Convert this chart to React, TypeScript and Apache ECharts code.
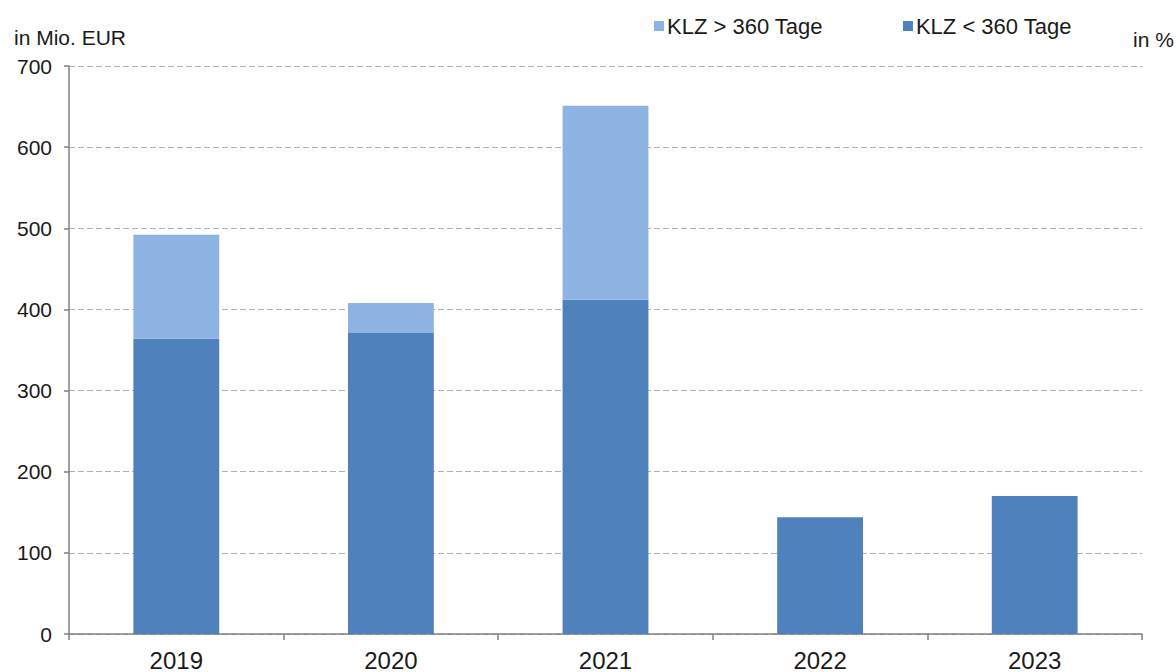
import React, { useEffect, useRef } from "react";
import * as echarts from "echarts";

const categories = ["2019", "2020", "2021", "2022", "2023"];
const shortTerm = [364, 371, 412, 144, 170]; // KLZ < 360 Tage
const longTerm = [128, 37, 239, 0, 0]; // KLZ > 360 Tage
const yTicks = [0, 100, 200, 300, 400, 500, 600, 700];

const FONT = "'Liberation Sans', Arial, sans-serif";

export default function App() {
  const ref = useRef<HTMLDivElement>(null);
  useEffect(() => {
    const chart = echarts.init(ref.current!, null, { renderer: "svg" });
    chart.setOption({
      animation: false,
      textStyle: { fontFamily: FONT },
      legend: {
        left: 649,
        top: 10,
        itemWidth: 10,
        itemHeight: 10,
        itemGap: 80,
        icon: "rect",
        textStyle: { fontSize: 22, color: "#1a1a1a", fontFamily: FONT, padding: [0, 0, 0, -2] },
        data: ["KLZ > 360 Tage", "KLZ < 360 Tage"],
      },
      graphic: [
        { type: "text", left: 14, top: 27, style: { text: "in Mio. EUR", fontSize: 21, fill: "#1a1a1a", fontFamily: FONT } },
        { type: "text", left: 1133, top: 29, style: { text: "in %", fontSize: 21, fill: "#1a1a1a", fontFamily: FONT } },
      ],
      grid: { left: 69, right: 34, top: 66, bottom: 38, containLabel: false },
      xAxis: {
        type: "category",
        data: categories,
        axisLine: { lineStyle: { color: "#808080", width: 1.5 } },
        axisTick: { show: true, length: 6, lineStyle: { color: "#808080", width: 1.5 } },
        axisLabel: { fontSize: 24, color: "#1a1a1a", margin: 14, fontFamily: FONT },
      },
      yAxis: {
        type: "value",
        min: 0,
        max: 700,
        interval: 100,
        axisLine: { show: true, lineStyle: { color: "#808080", width: 1.5 } },
        axisTick: { show: true, length: 5, lineStyle: { color: "#808080", width: 1.5 } },
        axisLabel: {
          fontSize: 21,
          color: "#1a1a1a",
          margin: 17,
          fontFamily: FONT,
          formatter: (v: number) => (yTicks.includes(v) ? String(v) : ""),
        },
        splitLine: { show: true, lineStyle: { color: "#b0b0b0", type: [6, 3], width: 1.2 } },
      },
      series: [
        {
          name: "KLZ < 360 Tage",
          type: "bar",
          stack: "total",
          data: shortTerm,
          barWidth: "40%",
          itemStyle: { color: "#4F81BD" },
        },
        {
          name: "KLZ > 360 Tage",
          type: "bar",
          stack: "total",
          data: longTerm,
          barWidth: "40%",
          itemStyle: { color: "#8DB3E2" },
        },
      ],
    });
    return () => chart.dispose();
  }, []);
  return <div ref={ref} style={{ width: 1176, height: 672, position: "absolute", left: 0, top: 0 }} />;
}
